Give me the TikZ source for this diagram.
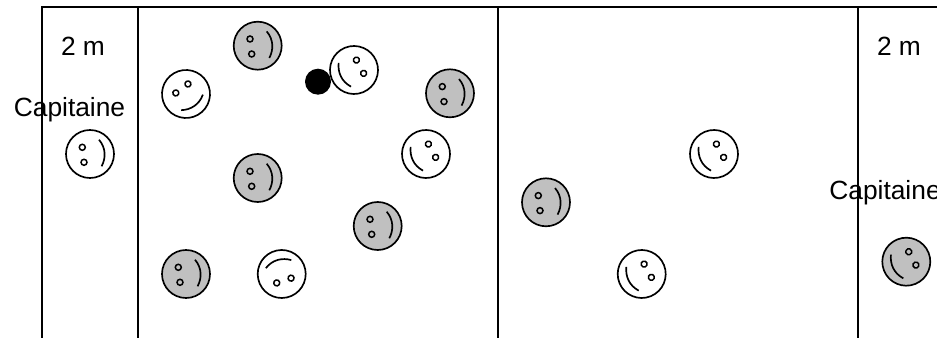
\documentclass[tikz,border=0pt]{standalone}
\usepackage{fontspec}
\setmainfont{Liberation Sans}
\definecolor{terrain}{HTML}{000000}
\definecolor{equipe}{HTML}{C0C0C0}
\tikzset{
  trait/.style={draw=terrain, line width=0.95pt},
  legende/.style={font=\fontsize{15pt}{17pt}\selectfont, text=terrain, anchor=base, inner sep=0pt},
  pics/visage/.style={code={
    \fill[#1] (0,0) circle [radius=24];
    \draw[trait] (0,0) circle [radius=24];
    \draw[trait, line width=0.85pt] (-7.7,6.7) circle [radius=3];
    \draw[trait, line width=0.85pt] (-6,-8.3) circle [radius=3];
    \draw[trait] (9,14.3) .. controls (16,6) and (16,-4) .. (11.6,-12.3);
  }}
}
\begin{document}
\begin{tikzpicture}[x=0.02cm, y=0.02cm]
  \useasboundingbox (0,0) rectangle (937,338);
  % terrain
  \draw[trait] (42,0) -- (42,331) -- (937,331);
  \foreach \xl in {138,498,858}
    \draw[trait] (\xl,0) -- (\xl,331);
  % textes
  \node[legende] (deuxg) at (83,282) {2 m};
  \node[legende] (capg) at (69.5,221.3) {Capitaine};
  \node[legende] (deuxd) at (899,282) {2 m};
  \node[legende] (capd) at (885,138) {Capitaine};
  % balle
  \node[circle, fill=black, inner sep=0pt, minimum size=0.52cm] (balle) at (318,256.3) {};
  % visages gris
  \foreach \xv/\yv/\rv in {257.7/292.3/0, 257.7/160/0, 377.7/112/0, 186/64/0, 450/244.7/0, 546/135.7/0, 906.3/76.3/-158}
    \pic[rotate=\rv] at (\xv,\yv) {visage=equipe};
  % visages blancs
  \foreach \xv/\yv/\rv in {90/184/0, 186/244/-60, 354/268/-158, 426/184/-158, 714/184/-158, 641.7/64/-158, 281.7/64/102}
    \pic[rotate=\rv] at (\xv,\yv) {visage=white};
\end{tikzpicture}
\end{document}
